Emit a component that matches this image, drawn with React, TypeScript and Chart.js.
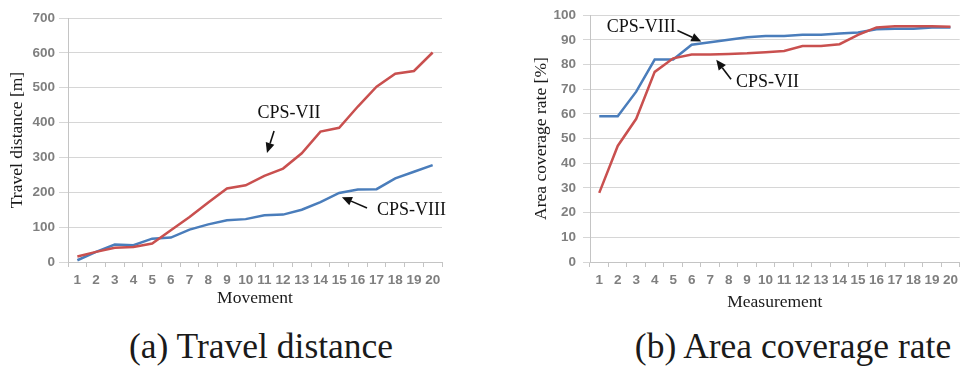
import React, { useEffect, useRef } from 'react';
import { Chart, registerables } from 'chart.js';

Chart.register(...registerables);

// ---------- data ----------
const movementLabels = ['1', '2', '3', '4', '5', '6', '7', '8', '9', '10', '11', '12', '13', '14', '15', '16', '17', '18', '19', '20'];
const travelCPS7 = [16, 29, 41, 43, 53, 91, 129, 171, 211, 220, 247, 268, 312, 374, 385, 446, 503, 540, 548, 601];
const travelCPS8 = [5, 29, 50, 48, 67, 70, 93, 108, 120, 123, 134, 136, 150, 172, 198, 208, 209, 240, 259, 278];
const travelTicks = [0, 100, 200, 300, 400, 500, 600, 700];

const measurementLabels = ['1', '2', '3', '4', '5', '6', '7', '8', '9', '10', '11', '12', '13', '14', '15', '16', '17', '18', '19', '20'];
const coverageCPS7 = [28, 47, 58, 77, 82.5, 84, 84, 84.2, 84.5, 85, 85.5, 87.5, 87.5, 88.2, 92, 95, 95.5, 95.5, 95.5, 95.3];
const coverageCPS8 = [59, 59, 69, 82, 82, 88, 89, 90, 91, 91.5, 91.5, 92, 92, 92.5, 93, 94.3, 94.5, 94.5, 95, 95];
const coverageTicks = [0, 10, 20, 30, 40, 50, 60, 70, 80, 90, 100];

// annotation texts and arrows, in data coordinates (category index, value)
const travelNotes = [
  { kind: 'text', text: 'CPS-VII', idx: 11.32, value: 427, align: 'center' },
  { kind: 'arrow', idx: 10.52, value: 376, idx2: 10.14, value2: 313 },
  { kind: 'text', text: 'CPS-VIII', idx: 16.02, value: 149, align: 'left' },
  { kind: 'arrow', idx: 15.49, value: 155, idx2: 14.15, value2: 186 },
];
const coverageNotes = [
  { kind: 'text', text: 'CPS-VIII', idx: 0.41, value: 95, align: 'left' },
  { kind: 'arrow', idx: 4.23, value: 93.8, idx2: 5.52, value2: 89.3 },
  { kind: 'text', text: 'CPS-VII', idx: 7.4, value: 72.8, align: 'left' },
  { kind: 'arrow', idx: 7.13, value: 74, idx2: 6.33, value2: 81.9 },
];

const RED = '#c9504f';
const BLUE = '#4a7dbb';
const SERIF = '"Liberation Serif", "Times New Roman", serif';
const SANS = '"Liberation Sans", Arial, sans-serif';

const notesPlugin = {
  id: 'arrowNotes',
  afterDatasetsDraw(chart: any, _args: any, opts: any) {
    const notes = (opts && opts.notes) || [];
    const xs = chart.scales.x;
    const ys = chart.scales.y;
    const ctx = chart.ctx;
    ctx.save();
    for (const n of notes) {
      const x = xs.getPixelForValue(n.idx);
      const y = ys.getPixelForValue(n.value);
      if (n.kind === 'text') {
        ctx.font = `18px ${SERIF}`;
        ctx.fillStyle = '#111';
        ctx.textAlign = n.align;
        ctx.textBaseline = 'middle';
        ctx.fillText(n.text, x, y);
      } else {
        const x2 = xs.getPixelForValue(n.idx2);
        const y2 = ys.getPixelForValue(n.value2);
        const ang = Math.atan2(y2 - y, x2 - x);
        const hl = 10;
        const hw = 4.5;
        const bx = x2 - hl * Math.cos(ang);
        const by = y2 - hl * Math.sin(ang);
        ctx.strokeStyle = '#111';
        ctx.lineWidth = 1.6;
        ctx.beginPath();
        ctx.moveTo(x, y);
        ctx.lineTo(bx, by);
        ctx.stroke();
        ctx.fillStyle = '#111';
        ctx.beginPath();
        ctx.moveTo(x2, y2);
        ctx.lineTo(bx + hw * Math.sin(ang), by - hw * Math.cos(ang));
        ctx.lineTo(bx - hw * Math.sin(ang), by + hw * Math.cos(ang));
        ctx.closePath();
        ctx.fill();
      }
    }
    ctx.restore();
  },
};

type Props = {
  width: number;
  height: number;
  labels: string[];
  red: number[];
  blue: number[];
  ticks: number[];
  yTitle: string;
  xTitle: string;
  yWidth: number;
  padTop: number;
  padRight: number;
  yTitlePad: number;
  xTitlePad: number;
  yTickLen: number;
  yTickPad: number;
  notes: any[];
};

function LineChart(p: Props) {
  const ref = useRef<HTMLCanvasElement | null>(null);
  useEffect(() => {
    if (!ref.current) return;
    const tickFont = { family: SANS, size: 13.5, weight: 'bold' as const };
    const titleFont = { family: SERIF, size: 17.5 };
    const chart = new Chart(ref.current, {
      type: 'line',
      data: {
        labels: p.labels,
        datasets: [
          { data: p.red, borderColor: RED, backgroundColor: RED, borderWidth: 2.5, pointRadius: 0, tension: 0 },
          { data: p.blue, borderColor: BLUE, backgroundColor: BLUE, borderWidth: 2.5, pointRadius: 0, tension: 0 },
        ],
      },
      options: {
        responsive: false,
        animation: false,
        devicePixelRatio: 1,
        layout: { padding: { top: p.padTop, right: p.padRight, left: 0, bottom: 0 } },
        plugins: {
          legend: { display: false },
          tooltip: { enabled: false },
          arrowNotes: { notes: p.notes },
        } as any,
        scales: {
          x: {
            type: 'category',
            offset: true,
            grid: { offset: true, drawOnChartArea: false, drawTicks: true, tickLength: 5, color: '#c4c4c4' },
            border: { color: '#c4c4c4' },
            ticks: { autoSkip: false, maxRotation: 0, minRotation: 0, padding: 5, color: '#7f7f7f', font: tickFont },
            title: { display: true, text: p.xTitle, color: '#1a1a1a', font: titleFont, padding: { top: 0, bottom: p.xTitlePad } },
            afterFit: (s: any) => { s.height = 58; },
          },
          y: {
            min: p.ticks[0],
            max: p.ticks[p.ticks.length - 1],
            afterBuildTicks: (s: any) => { s.ticks = p.ticks.map((v) => ({ value: v })); },
            grid: { color: '#d6d6d6', tickLength: p.yTickLen, drawTicks: true },
            border: { color: '#c4c4c4' },
            ticks: { padding: p.yTickPad, color: '#7f7f7f', font: tickFont },
            title: { display: true, text: p.yTitle, color: '#1a1a1a', font: titleFont, padding: { top: p.yTitlePad, bottom: 0 } },
            afterFit: (s: any) => { s.width = p.yWidth; },
          },
        },
      },
      plugins: [notesPlugin],
    } as any);
    return () => chart.destroy();
  }, []);
  return <canvas ref={ref} width={p.width} height={p.height} style={{ display: 'block', width: p.width, height: p.height }} />;
}

const captionStyle: React.CSSProperties = {
  position: 'absolute',
  width: 420,
  textAlign: 'center',
  fontFamily: SERIF,
  fontSize: 35.5,
  lineHeight: '34px',
  color: '#1a1a1a',
  whiteSpace: 'nowrap',
};

export default function App() {
  return (
    <div style={{ position: 'fixed', left: 0, top: 0, width: 963, height: 367, background: '#fff', overflow: 'hidden' }}>
      <div style={{ position: 'absolute', left: 0, top: 0 }}>
        <LineChart
          width={480}
          height={320}
          labels={movementLabels}
          red={travelCPS7}
          blue={travelCPS8}
          ticks={travelTicks}
          yTitle="Travel distance [m]"
          xTitle="Movement"
          yWidth={68}
          padTop={18}
          padRight={38}
          yTitlePad={6.5}
          xTitlePad={11.5}
          yTickLen={9}
          yTickPad={4}
          notes={travelNotes}
        />
      </div>
      <div style={{ position: 'absolute', left: 480, top: 0 }}>
        <LineChart
          width={483}
          height={320}
          labels={measurementLabels}
          red={coverageCPS7}
          blue={coverageCPS8}
          ticks={coverageTicks}
          yTitle="Area coverage rate [%]"
          xTitle="Measurement"
          yWidth={110}
          padTop={13}
          padRight={1}
          yTitlePad={50.5}
          xTitlePad={7.5}
          yTickLen={7}
          yTickPad={7}
          notes={coverageNotes}
        />
      </div>
      <div style={{ ...captionStyle, left: 261 - 210, top: 329 }}>(a) Travel distance</div>
      <div style={{ ...captionStyle, left: 793 - 210, top: 329 }}>(b) Area coverage rate</div>
    </div>
  );
}
